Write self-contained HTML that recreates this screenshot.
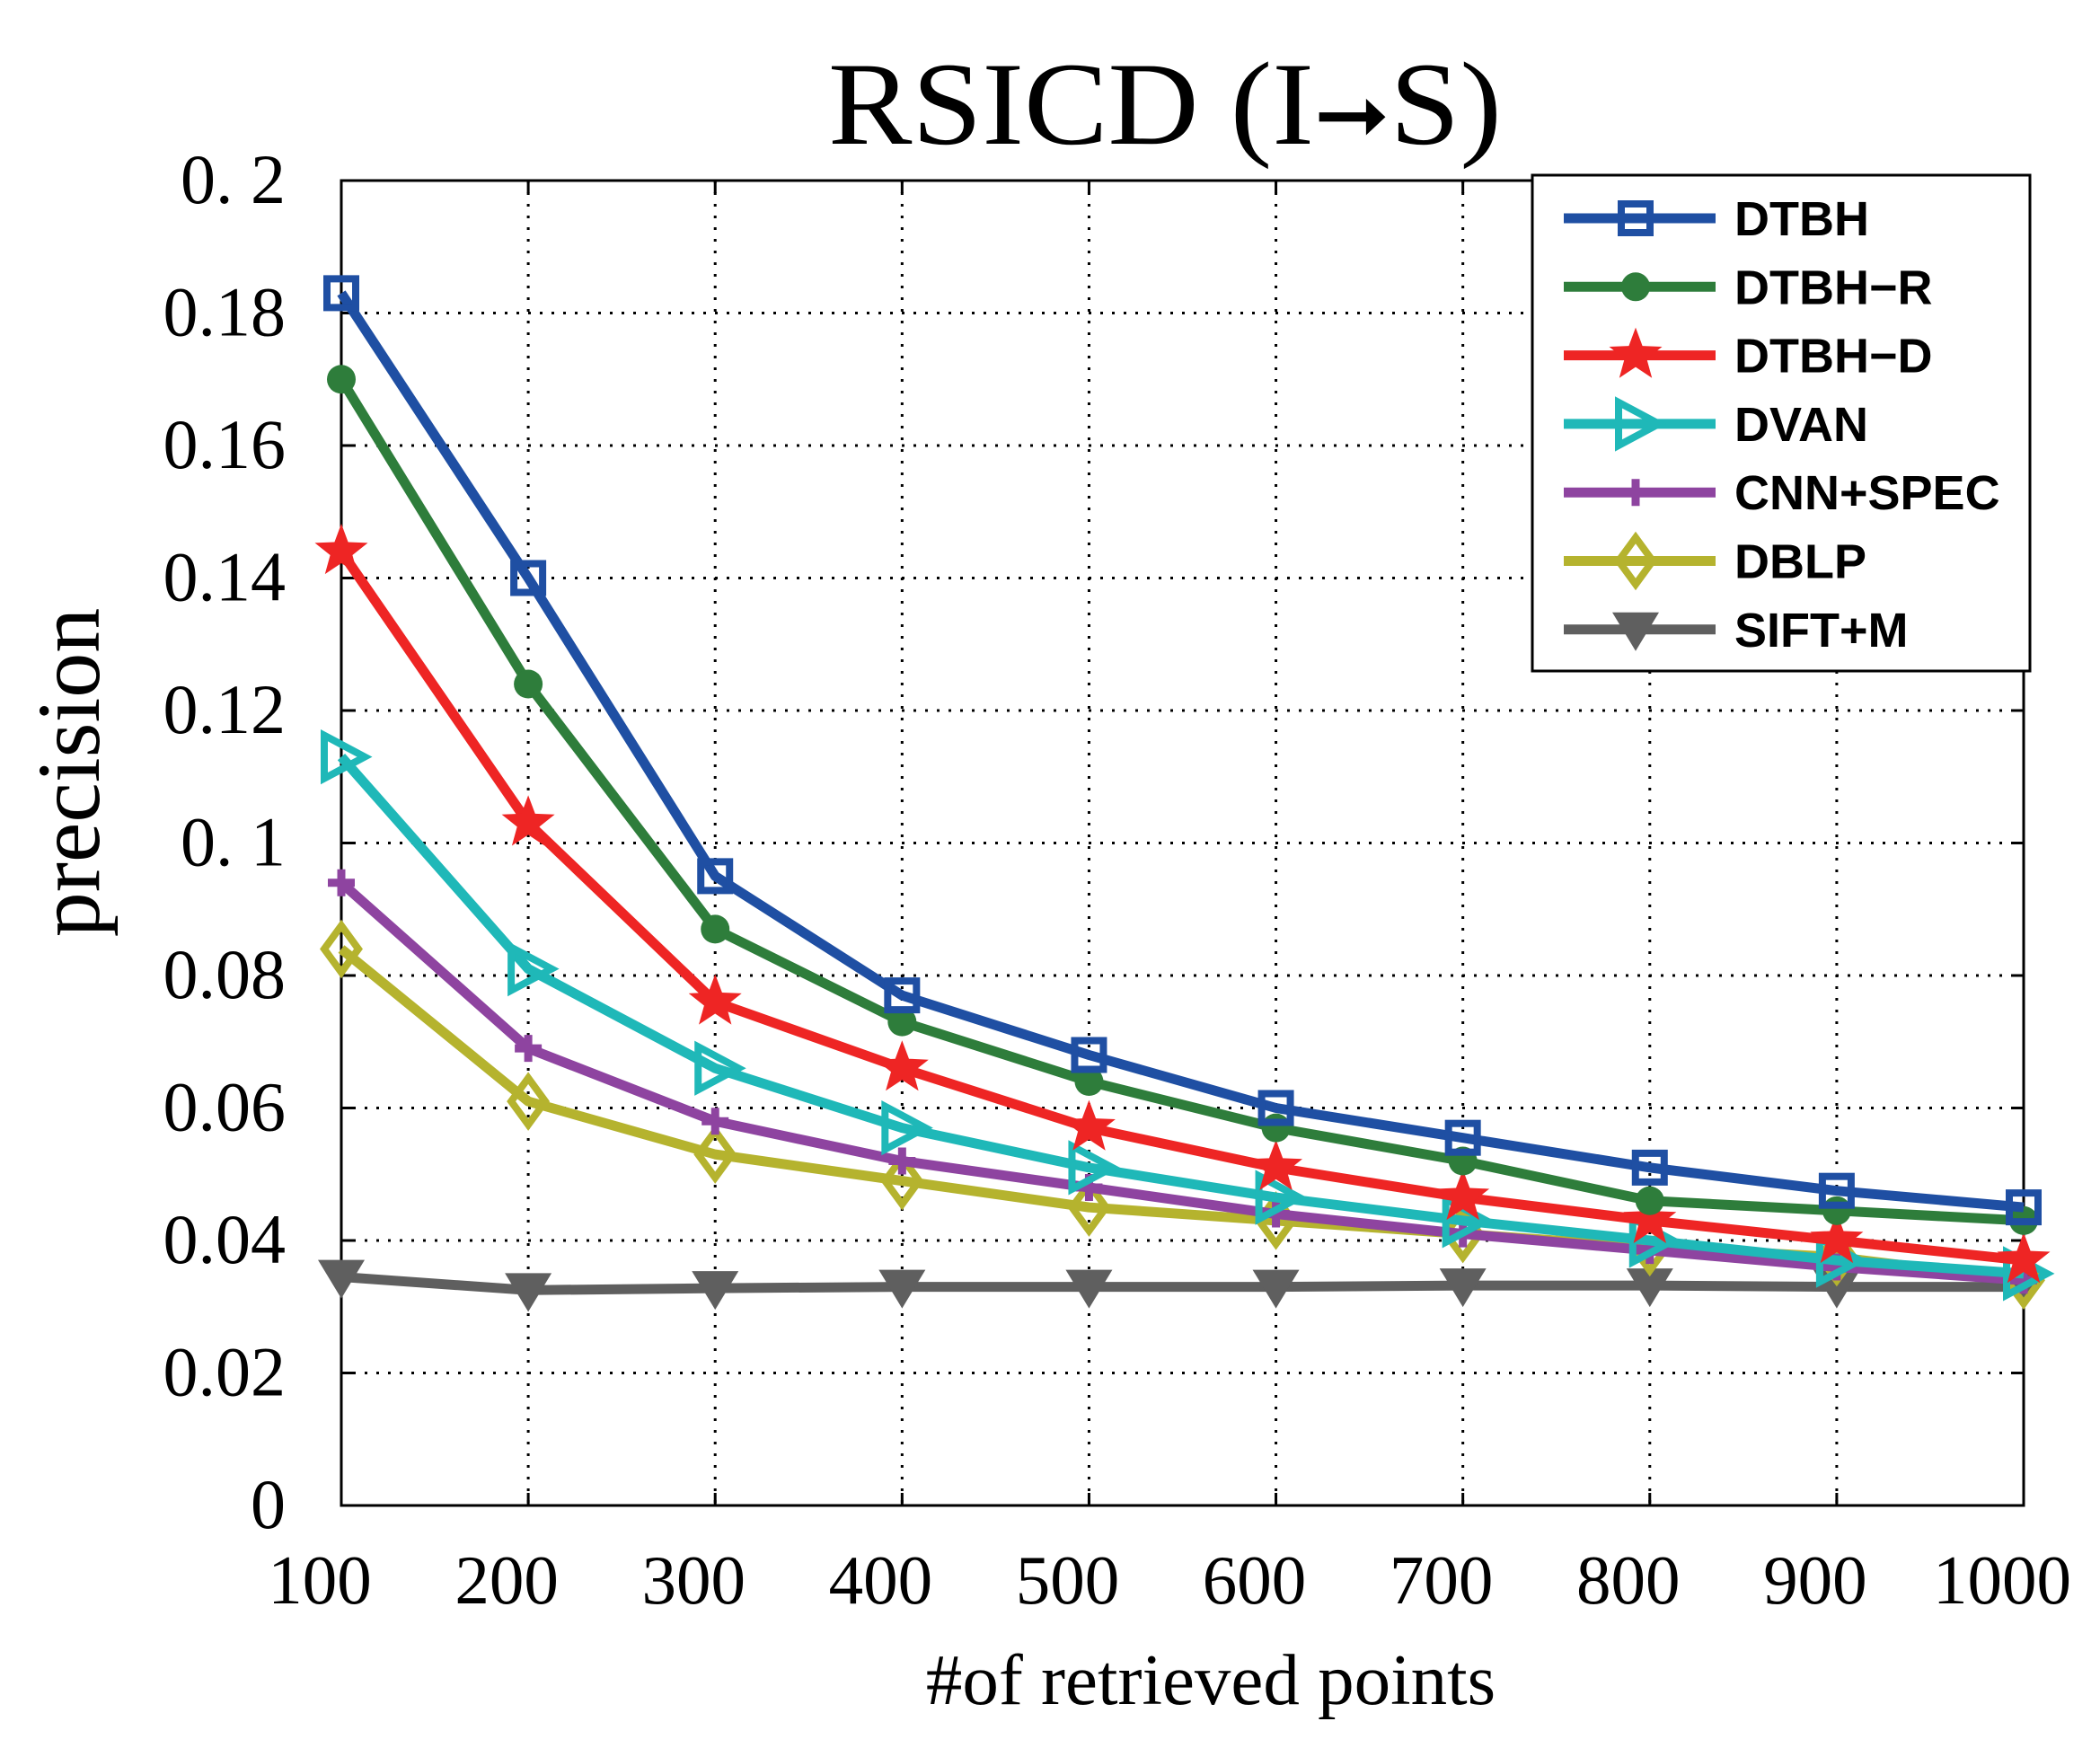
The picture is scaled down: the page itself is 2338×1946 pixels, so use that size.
<!DOCTYPE html>
<html><head><meta charset="utf-8"><style>
html,body{margin:0;padding:0;background:#fff;}
svg{display:block;}
</style></head><body>
<svg id="s" width="2338" height="1946" viewBox="0 0 2338 1946" xmlns="http://www.w3.org/2000/svg"></svg>
<script>
const L=380,R=2253,T=201,B=1676;
const X=i=>L+(R-L)*i/9, Y=v=>B-(B-T)*v/0.2;
let h='';
for(let i=1;i<9;i++)h+=`<line x1="${X(i)}" y1="${T}" x2="${X(i)}" y2="${B}" stroke="#000" stroke-width="3" stroke-dasharray="3,10"/>`;
for(let j=1;j<10;j++){const y=Y(j*0.02);h+=`<line x1="${L}" y1="${y}" x2="${R}" y2="${y}" stroke="#000" stroke-width="3" stroke-dasharray="3,10"/>`;}
h+=`<rect x="${L}" y="${T}" width="${R-L}" height="${B-T}" fill="none" stroke="#000" stroke-width="3"/>`;
for(let i=0;i<10;i++){h+=`<line x1="${X(i)}" y1="${B}" x2="${X(i)}" y2="${B-14}" stroke="#000" stroke-width="3"/><line x1="${X(i)}" y1="${T}" x2="${X(i)}" y2="${T+14}" stroke="#000" stroke-width="3"/>`;
h+=`<text x="${X(i)-24}" y="1785" font-family="Liberation Serif" font-size="77" text-anchor="middle">${(i+1)*100}</text>`;}
const yl=['0','0.02','0.04','0.06','0.08','0. 1','0.12','0.14','0.16','0.18','0. 2'];
for(let j=0;j<=10;j++){const y=Y(j*0.02);h+=`<line x1="${L}" y1="${y}" x2="${L+14}" y2="${y}" stroke="#000" stroke-width="3"/><line x1="${R}" y1="${y}" x2="${R-14}" y2="${y}" stroke="#000" stroke-width="3"/>`;
h+=`<text x="318" y="${y+25}" font-family="Liberation Serif" font-size="78" text-anchor="end">${yl[j]}</text>`;}
const S=[
['DTBH','#1f4fa3','sq',[.183,.140,.095,.077,.068,.060,.0555,.051,.0475,.045]],
['DTBH\u2212R','#2e7d3b','ci',[.170,.124,.087,.073,.064,.057,.052,.046,.0445,.043]],
['DTBH\u2212D','#ee2524','st',[.144,.103,.076,.066,.057,.051,.0465,.043,.040,.037]],
['DVAN','#1fb8b8','tr',[.113,.081,.066,.057,.051,.0465,.043,.040,.037,.035]],
['CNN+SPEC','#8e44a0','pl',[.094,.069,.058,.052,.048,.044,.041,.0385,.036,.034]],
['DBLP','#b5b32e','di',[.084,.061,.053,.049,.045,.043,.041,.039,.0375,.034]],
['SIFT+M','#5f5f5f','tv',[.0345,.0325,.0328,.033,.033,.033,.0332,.0332,.033,.033]]];
function mk(t,x,y,c){const r=16;
if(t=='sq')return `<rect x="${x-r}" y="${y-r}" width="${2*r}" height="${2*r}" fill="none" stroke="${c}" stroke-width="8"/>`;
if(t=='ci')return `<circle cx="${x}" cy="${y}" r="${r}" fill="${c}"/>`;
if(t=='st'){let p=[];for(let k=0;k<10;k++){const a=-Math.PI/2+k*Math.PI/5,rr=k%2?13:31;p.push((x+rr*Math.cos(a)).toFixed(1)+','+(y+rr*Math.sin(a)).toFixed(1));}return `<polygon points="${p.join(' ')}" fill="${c}"/>`;}
if(t=='tr')return `<polygon points="${x-19},${y-24} ${x+26},${y} ${x-19},${y+24}" fill="none" stroke="${c}" stroke-width="8"/>`;
if(t=='pl')return `<path d="M${x-15} ${y}H${x+15}M${x} ${y-15}V${y+15}" stroke="${c}" stroke-width="9"/>`;
if(t=='di')return `<polygon points="${x},${y-26} ${x+19},${y} ${x},${y+26} ${x-19},${y}" fill="none" stroke="${c}" stroke-width="8"/>`;
if(t=='tv')return `<polygon points="${x-26},${y-19} ${x+26},${y-19} ${x},${y+24}" fill="${c}"/>`;}
for(let k=S.length-1;k>=0;k--){const [n,c,t,d]=S[k];
h+=`<polyline points="${d.map((v,i)=>X(i)+','+Y(v)).join(' ')}" fill="none" stroke="${c}" stroke-width="11" stroke-linejoin="round"/>`;
d.forEach((v,i)=>h+=mk(t,X(i),Y(v),c));}
h+=`<rect x="1706" y="195" width="554" height="552" fill="#fff" stroke="#000" stroke-width="3"/>`;
S.forEach(([n,c,t],k)=>{const y=243+k*76.3;
h+=`<line x1="1741" y1="${y}" x2="1910" y2="${y}" stroke="${c}" stroke-width="11"/>`+mk(t,1821,y,c)+
`<text x="1931" y="${y+19}" font-family="Liberation Sans" font-weight="bold" font-size="54">${n}</text>`;});
h+=`<text x="1297" y="160" font-family="Liberation Serif" font-size="132" text-anchor="middle" textLength="750" lengthAdjust="spacingAndGlyphs">RSICD (I<tspan font-size="95">&#x279E;</tspan>S)</text>`;
h+=`<text x="1348" y="1897" font-family="Liberation Serif" font-size="81" text-anchor="middle">#of retrieved points</text>`;
h+=`<text transform="translate(110,860) rotate(-90)" font-family="Liberation Serif" font-size="100" text-anchor="middle">precision</text>`;
document.getElementById('s').innerHTML=h;
</script>
</body></html>
